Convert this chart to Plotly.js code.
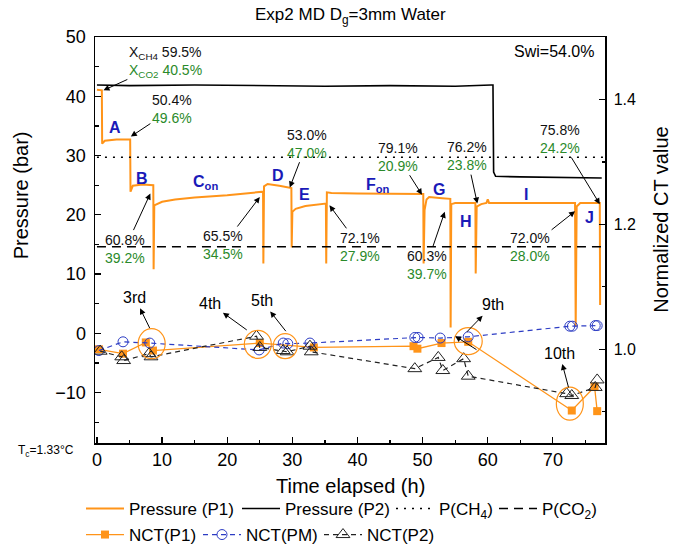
<!DOCTYPE html>
<html>
<head>
<meta charset="utf-8">
<script src="https://cdn.plot.ly/plotly-3.0.1.min.js"></script>
<style>html,body{margin:0;padding:0;background:#fff;}#chart{width:683px;height:547px;}</style>
</head>
<body>
<div id="chart"></div>
<script>
// ---------- data ----------
const p1Time = [0, 0.75, 0.8, 1.2, 3.0, 5.1, 5.15, 5.5, 7.0, 8.65, 8.7, 8.8, 10, 12, 15, 20, 25.5, 25.55, 25.65, 26.2, 28, 29.85, 29.9, 30.0, 30.5, 32, 35.15, 35.2, 35.3, 36, 40, 45, 50.1, 50.15, 50.3, 50.6, 51.0, 53, 54.25, 54.3, 54.4, 55, 58.1, 58.15, 58.3, 59.0, 59.8, 60.0, 60.2, 61, 65, 70, 73.4, 73.5, 73.65, 74.2, 77.2, 77.25];
const p1Val  = [41.1, 41.0, 32.0, 32.5, 32.7, 32.7, 23.9, 24.9, 25.1, 25.0, 10.8, 21.6, 22.2, 22.6, 22.9, 23.3, 23.9, 11.8, 24.8, 25.2, 24.9, 24.5, 14.5, 20.5, 21.0, 21.5, 21.9, 11.8, 23.8, 23.7, 23.6, 23.6, 23.5, 11.8, 20.8, 22.6, 23.0, 22.8, 22.7, 1.0, 21.8, 22.0, 22.0, 10.1, 21.4, 21.8, 22.0, 22.6, 22.0, 22.0, 22.0, 22.0, 22.0, 1.2, 21.4, 22.0, 22.0, 4.8];

const p2Time = [0, 5, 15, 25, 35, 45, 55, 60.5, 60.8, 60.9, 61.2, 65, 77.5];
const p2Val  = [41.9, 41.8, 41.9, 41.8, 41.7, 41.8, 41.7, 41.9, 41.9, 27.2, 26.5, 26.4, 26.2];

const refTime = [0, 77.8];
const pCH4 = [29.7, 29.7];
const pCO2 = [14.6, 14.6];

const nctP1Time = [0.3, 4.0, 7.5, 8.6, 25.0, 33.3, 48.6, 49.2, 52.9, 57.0, 72.9, 76.4, 76.8];
const nctP1Val  = [1.000, 0.993, 1.011, 0.998, 1.010, 1.003, 1.005, 1.001, 1.010, 1.012, 0.902, 0.940, 0.901];

const nctPMTime = [0.3, 4.0, 8.1, 24.9, 28.6, 29.3, 32.7, 48.8, 49.3, 52.7, 57.0, 72.6, 73.0, 76.5, 76.8];
const nctPMVal  = [0.998, 1.012, 1.010, 0.999, 1.010, 1.009, 1.010, 1.019, 1.019, 1.018, 1.020, 1.037, 1.037, 1.038, 1.038];

const nctP2Time = [0.5, 3.8, 4.1, 8.0, 8.3, 24.5, 25.0, 28.6, 29.2, 32.7, 32.9, 48.8, 52.4, 53.1, 56.3, 57.0, 72.1, 72.9, 76.5, 76.8];
const nctP2Val  = [0.997, 0.988, 0.982, 0.993, 0.988, 1.021, 1.003, 0.998, 0.996, 1.005, 0.996, 0.969, 0.987, 0.966, 0.985, 0.957, 0.929, 0.926, 0.939, 0.951];

// gas composition labels (X_CH4 / X_CO2) with the point each arrow marks
const compCH4 = ['50.4%', '53.0%', '60.8%', '65.5%', '72.1%', '79.1%', '60.3%', '76.2%', '72.0%', '75.8%'];
const compCO2 = ['49.6%', '47.0%', '39.2%', '34.5%', '27.9%', '20.9%', '39.7%', '23.8%', '28.0%', '24.2%'];
const compPos = [[11.5, 37.8], [32.2, 32.0], [4.3, 14.3], [19.4, 14.9], [40.4, 14.6], [46.2, 29.8], [50.6, 11.5], [56.8, 29.9], [66.5, 14.6], [71.1, 32.8]];
const compHead = [[5.2, 33.2], [29.6, 24.6], [8.2, 23.6], [25.0, 23.0], [35.7, 21.6], [49.9, 23.4], [53.4, 20.5], [58.4, 21.9], [73.4, 20.6], [77.2, 21.8]];
const initPos = [10.5, 45.75];
const initHead = [1.0, 41.0];

const stageLabels = ['A', 'B', 'C<sub>on</sub>', 'D', 'E', 'F<sub>on</sub>', 'G', 'H', 'I', 'J'];
const stagePos = [[2.8, 34.7], [6.9, 26.1], [16.6, 25.4], [27.8, 26.6], [31.8, 23.4], [43.1, 25.0], [52.5, 24.2], [56.7, 18.9], [65.9, 23.5], [75.6, 19.5]];

// scan labels on NCT axis, with the point each arrow starts from
const scanLabels = ['3rd', '4th', '5th', '9th', '10th'];
const scanLabelPos = [[5.8, 1.083], [17.3, 1.074], [25.3, 1.078], [60.8, 1.071], [71.0, 0.994]];
const scanTail = [[8.1, 1.034], [23.0, 1.031], [29.0, 1.029], [56.8, 1.028], [72.4, 0.939]];
const extraArrow = [55.0, 1.021, 58.5, 0.998];
const ringCenters = [[8.4, 1.009], [24.7, 1.008], [28.9, 1.005], [57.0, 1.013], [72.6, 0.913]];
const ringSizes = [[27, 30], [27, 28], [24, 25], [28, 27], [27, 33]];

// ---------- styles ----------
const ORANGE = '#ff9419';
const BLUE = '#2c3cc4';
const GREEN = '#2a8a2a';
const LETTER = '#1a1ab8';
const FONT = 'Liberation Sans, Arial, sans-serif';

const traces = [
  {x: p1Time, y: p1Val, name: 'Pressure (P1)', mode: 'lines', line: {color: ORANGE, width: 2}, legend: 'legend'},
  {x: p2Time, y: p2Val, name: 'Pressure (P2)', mode: 'lines', line: {color: '#000', width: 1.6}, legend: 'legend2'},
  {x: refTime, y: pCH4, name: 'P(CH<sub>4</sub>)', mode: 'lines', line: {color: '#000', width: 1.4, dash: '2px,6px'}, legend: 'legend3'},
  {x: refTime, y: pCO2, name: 'P(CO<sub>2</sub>)', mode: 'lines', line: {color: '#000', width: 1.4, dash: '9px,6px'}, legend: 'legend4'},
  {x: nctP1Time, y: nctP1Val, yaxis: 'y2', name: 'NCT(P1)', mode: 'lines+markers', line: {color: ORANGE, width: 1.3}, marker: {symbol: 'square', size: 8, color: ORANGE}, legend: 'legend5'},
  {x: nctPMTime, y: nctPMVal, yaxis: 'y2', name: 'NCT(PM)', mode: 'lines+markers', line: {color: BLUE, width: 1.2, dash: '5px,4px'}, marker: {symbol: 'circle-open', size: 10, color: BLUE, line: {width: 1}}, legend: 'legend6'},
  {x: nctP2Time, y: nctP2Val, yaxis: 'y2', name: 'NCT(P2)', mode: 'lines+markers', line: {color: '#222', width: 1.2, dash: '5px,4px'}, marker: {symbol: 'triangle-up-open', size: 12, color: '#222', line: {width: 1}}, legend: 'legend7'}
];

const annotations = [];
const arrowStyle = {showarrow: true, arrowhead: 2, arrowsize: 1.2, arrowwidth: 1, arrowcolor: '#000', standoff: 0};
function pctText(a, b) {
  return a + '<br><span style="color:' + GREEN + '">' + b + '</span>';
}
// composition labels with arrows pointing at the pressure curve
compCH4.forEach((v, i) => {
  annotations.push(Object.assign({x: compHead[i][0], y: compHead[i][1], ax: compPos[i][0], ay: compPos[i][1],
    xref: 'x', yref: 'y', axref: 'x', ayref: 'y', text: pctText(v, compCO2[i]),
    font: {family: FONT, size: 14, color: '#111'}}, arrowStyle));
});
annotations.push(Object.assign({x: initHead[0], y: initHead[1], ax: initPos[0], ay: initPos[1],
  xref: 'x', yref: 'y', axref: 'x', ayref: 'y', align: 'left',
  text: pctText('X<sub>CH4</sub> 59.5%', 'X<sub>CO2</sub> 40.5%'),
  font: {family: FONT, size: 14, color: '#111'}}, arrowStyle));
// stage letters
stageLabels.forEach((s, i) => {
  annotations.push({x: stagePos[i][0], y: stagePos[i][1], xref: 'x', yref: 'y', text: '<b>' + s + '</b>', showarrow: false,
    font: {family: FONT, size: 16, color: LETTER}});
});
// scan labels with arrows pointing from the ring toward the label
scanLabels.forEach((s, i) => {
  annotations.push({x: scanTail[i][0], y: scanTail[i][1], ax: scanLabelPos[i][0], ay: scanLabelPos[i][1],
    xref: 'x', yref: 'y2', axref: 'x', ayref: 'y2', text: s,
    showarrow: true, arrowside: 'start', startarrowhead: 2, startarrowsize: 1.2, arrowwidth: 1, arrowcolor: '#000',
    startstandoff: 1, standoff: 0,
    font: {family: FONT, size: 16, color: '#000'}});
});
annotations.push(Object.assign({x: extraArrow[0], y: extraArrow[1], ax: extraArrow[2], ay: extraArrow[3],
  xref: 'x', yref: 'y2', axref: 'x', ayref: 'y2', text: ''}, arrowStyle));
// corner texts and axis titles
annotations.push({x: 0.985, y: 0.965, xref: 'paper', yref: 'paper', xanchor: 'right', yanchor: 'middle', text: 'Swi=54.0%', showarrow: false,
  font: {family: FONT, size: 16, color: '#000'}});
annotations.push({x: (46 - 95) / 510, y: (443 - 451) / 406, xref: 'paper', yref: 'paper', xanchor: 'center', yanchor: 'middle',
  text: 'T<sub>c</sub>=1.33°C', showarrow: false, font: {family: FONT, size: 12, color: '#000'}});
annotations.push({x: 0.5, y: 1, xref: 'paper', yref: 'paper', xanchor: 'center', yanchor: 'bottom', yshift: 8,
  text: 'Exp2 MD D<sub>g</sub>=3mm Water', showarrow: false, font: {family: FONT, size: 17, color: '#000'}});
annotations.push({x: 0.5, y: 0, xref: 'paper', yref: 'paper', xanchor: 'center', yanchor: 'middle', yshift: -43,
  text: 'Time elapsed (h)', showarrow: false, font: {family: FONT, size: 20, color: '#000'}});
annotations.push({x: 0, y: 0.61, xref: 'paper', yref: 'paper', xanchor: 'center', yanchor: 'middle', xshift: -74, textangle: -90,
  text: 'Pressure (bar)', showarrow: false, font: {family: FONT, size: 20, color: '#000'}});
annotations.push({x: 1, y: 0.55, xref: 'paper', yref: 'paper', xanchor: 'center', yanchor: 'middle', xshift: 56, textangle: -90,
  text: 'Normalized CT value', showarrow: false, font: {family: FONT, size: 20, color: '#000'}});

const shapes = ringCenters.map((c, i) => ({
  type: 'circle', xref: 'x', yref: 'y2', xsizemode: 'pixel', ysizemode: 'pixel',
  xanchor: c[0], yanchor: c[1],
  x0: -ringSizes[i][0] / 2, x1: ringSizes[i][0] / 2, y0: -ringSizes[i][1] / 2, y1: ringSizes[i][1] / 2,
  line: {color: ORANGE, width: 1.2}
}));

const axisCommon = {showgrid: false, zeroline: false, showline: true, linecolor: '#000', linewidth: 1.5,
  ticks: 'inside', tickcolor: '#000', ticklen: 6, tickwidth: 1.2, automargin: false};

// one legend box per entry, laid out in two rows under the x axis
function legendBox(left, centerY) {
  return {orientation: 'h', xref: 'container', yref: 'container', x: left / 683, xanchor: 'left',
    y: 1 - centerY / 547, yanchor: 'middle', font: {size: 17, family: FONT}, itemwidth: 38,
    bgcolor: 'rgba(0,0,0,0)', borderwidth: 0};
}

const layout = {
  width: 683, height: 547,
  margin: {l: 95, r: 78, t: 37, b: 104},
  paper_bgcolor: '#fff', plot_bgcolor: '#fff',
  font: {family: FONT, color: '#000'},
  showlegend: true,
  xaxis: Object.assign({}, axisCommon, {range: [-0.3, 78], dtick: 10, tick0: 0, mirror: true,
    tickfont: {size: 18, family: FONT}, minor: {dtick: 5, ticks: 'inside', ticklen: 3.5, tickcolor: '#000'}}),
  yaxis: Object.assign({}, axisCommon, {range: [-18.5, 50], dtick: 10, tick0: 0,
    tickfont: {size: 18, family: FONT}, ticklabelstandoff: 4, minor: {dtick: 5, ticks: 'inside', ticklen: 3.5, tickcolor: '#000'}}),
  yaxis2: Object.assign({}, axisCommon, {range: [0.85, 1.5], dtick: 0.2, tick0: 0, overlaying: 'y', side: 'right',
    tickformat: '.1f', tickfont: {size: 16, family: FONT}, ticklabelstandoff: 4,
    minor: {dtick: 0.1, ticks: 'inside', ticklen: 3.5, tickcolor: '#000'}}),
  legend: legendBox(81, 509),
  legend2: legendBox(237, 509),
  legend3: legendBox(391, 509),
  legend4: legendBox(494, 509),
  legend5: legendBox(81, 535),
  legend6: legendBox(198, 535),
  legend7: legendBox(319, 535),
  annotations: annotations,
  shapes: shapes
};

Plotly.newPlot('chart', traces, layout, {displayModeBar: false, staticPlot: true});
</script>
</body>
</html>
